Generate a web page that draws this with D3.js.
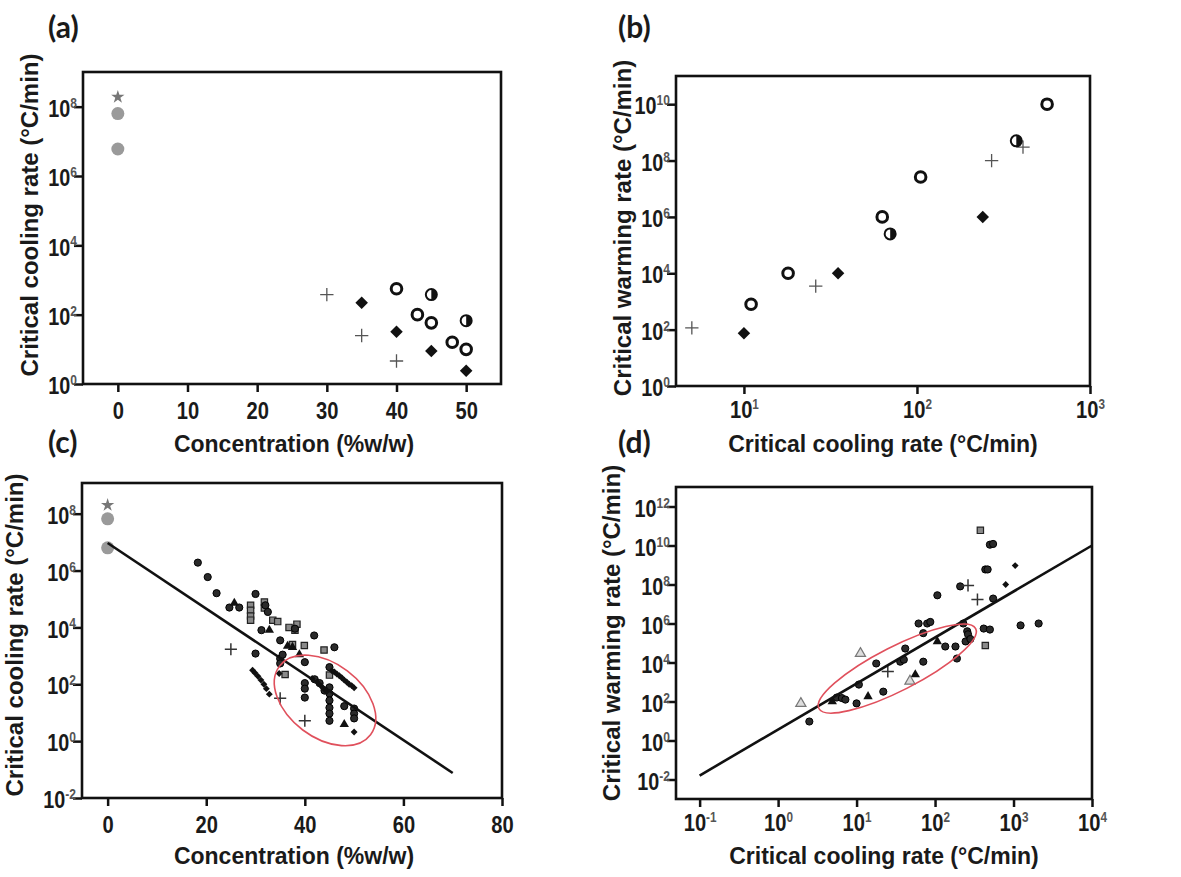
<!DOCTYPE html>
<html>
<head>
<meta charset="utf-8">
<title>Critical cooling and warming rates</title>
<style>
body { margin: 0; background: #fff; }
.tick text { font-family: "Liberation Sans", Arial, sans-serif; font-weight: bold; fill: #1a1a1a; }
.tick line { stroke: #111; stroke-width: 2.5; }
.title { font-family: "Liberation Sans", Arial, sans-serif; font-weight: bold; fill: #1a1a1a; }
.plabel { font-family: Lato, "Open Sans", sans-serif; font-weight: bold; font-size: 30px; fill: #1a1a1a; }
</style>
</head>
<body>
<script src="https://d3js.org/d3.v7.min.js"></script>
<script>

// ---- panel (a): concentration (%w/w) vs critical cooling rate (°C/min)
var aStar     = [[0, 1.9e8]];
var aGrayDot  = [[0, 6.3e7], [0, 6e6]];
var aPlus     = [[30, 380], [35, 25], [40, 4.6]];
var aDiamond  = [[35, 220], [40, 32], [45, 9], [50, 2.4]];
var aRing     = [[40, 560], [43, 100], [45, 58], [48, 16], [50, 10]];
var aHalf     = [[45, 380], [50, 67]];

// ---- panel (b): critical cooling rate vs critical warming rate
var bPlus     = [[5, 115], [26, 3500], [270, 1e8], [410, 3e8]];
var bDiamond  = [[10, 75], [35, 1e4], [240, 1e6]];
var bRing     = [[11, 800], [18, 1e4], [63, 1e6], [105, 2.6e7], [565, 1e10]];
var bHalf     = [[70, 2.5e5], [375, 5e8]];

// ---- panel (c): all literature data, concentration vs cooling rate
var cStar     = [[0, 2e8]];
var cGrayDot  = [[0, 6.6e7], [0, 6.3e6]];
var cDot      = [[18.3, 1.9e6], [20.3, 5.9e5], [22.1, 1.6e5], [30, 1.5e5], [24.7, 5e4], [26.7, 5e4],
                 [31.2, 8e3], [30, 1.2e3], [35, 3.5e3], [41.9, 5.2e3], [46, 2e3], [40, 600], [40, 110],
                 [40, 70], [40, 34], [45, 400], [45, 78], [45, 47], [45, 27], [45, 15], [45, 9.3],
                 [45, 5.2], [48, 17], [50, 14], [50, 9.3], [50, 6.3], [35, 800], [35, 540], [42, 150],
                 [43, 110], [44, 60], [38, 9e3], [32, 6e4], [32.5, 3.5e4], [35.5, 1.1e3]];
var cSquare   = [[29, 6e4], [29, 4e4], [29, 2.5e4], [29, 1.8e4], [36.8, 1e4], [38, 8e3], [39.9, 2.3e3],
                 [37.5, 2.5e3], [43.9, 1.6e3], [31.8, 7.8e4], [31.8, 4.8e4], [33.5, 1.8e4], [34.5, 1.6e4],
                 [38.4, 1.3e4], [36, 220], [45, 210]];
var cTri      = [[25.7, 7.2e4], [32.8, 8e3], [37.5, 2e3], [38.9, 1.1e3], [48, 3.9], [36.5, 2.2e3]];
var cPlus     = [[25, 1.7e3], [35, 32], [40, 5.2]];
var cDia      = [[29.4, 310], [29.9, 250], [30.5, 190], [31.1, 140], [31.7, 100], [32.2, 70], [32.8, 45],
                 [45.5, 300], [46, 270], [46.5, 230], [47, 200], [47.5, 170], [48, 140], [48.5, 120],
                 [49, 100], [49.5, 90], [50, 75], [41.5, 160], [42.5, 120], [43.2, 90], [43.8, 70],
                 [44.4, 55], [34.8, 240], [50, 2.1]];
var cFitX     = [0, 70];
var cFitY     = [9.3e6, 0.076];

// ---- panel (d): all literature data, cooling rate vs warming rate
var dDot      = [[2.5, 9.4], [5.6, 160], [6.5, 150], [7.2, 125], [10, 80], [10.7, 740], [17.8, 8.9e3],
                 [21.9, 320], [36, 1.1e4], [40, 1.4e4], [41.7, 5.2e4], [70.8, 1.1e4], [61.7, 1e6],
                 [70.8, 3.2e5], [79.4, 1e6], [87, 1.2e6], [107, 2.8e7], [135, 6.6e4], [182, 6.6e4],
                 [190, 1.6e4], [209, 8e7], [229, 1e6], [245, 1.2e5], [257, 4e5], [263, 2.8e5],
                 [282, 1.6e5], [417, 5.5e5], [500, 4.9e5], [550, 1.9e7], [1230, 8e5], [2090, 1e6],
                 [437, 5.9e8], [468, 5.9e8], [500, 1.1e10], [549, 1.2e10]];
var dSquare   = [[378, 6e10], [437, 7.4e4]];
var dTri      = [[4.9, 100], [14, 180], [56, 2.4e3], [107, 1.2e5]];
var dTriOpen  = [[1.95, 79], [11.2, 2.9e4], [47.9, 1.1e3]];
var dPlus     = [[25, 3.5e3], [263, 9e7], [347, 1.7e7]];
var dDia      = [[1050, 9.3e8], [795, 1e8]];
var dFitX     = [0.1, 1e4];
var dFitY     = [0.016, 1e10];

var svg = d3.select("body").append("svg")
    .attr("width", 1181)
    .attr("height", 877);

function sup(sel, d) {
  var e = Math.round(Math.log10(d));
  sel.text("10");
  sel.append("tspan").attr("dy", "-0.65em").attr("font-size", "14px").attr("fill", "#555").text(e);
}

// build one panel: box, scales, axes, titles
function panel(o) {
  var x = o.xlog ? d3.scaleLog() : d3.scaleLinear();
  x.domain(o.xdom).range([o.left, o.right]);
  var y = d3.scaleLog().domain(o.ydom).range([o.bottom, o.top]);
  var g = svg.append("g");

  var xa = g.append("g")
      .attr("transform", "translate(0," + o.bottom + ")")
      .call(d3.axisBottom(x).tickValues(o.xticks).tickSize(8).tickSizeOuter(0).tickPadding(o.xlog ? 4 : 7));
  xa.select(".domain").remove();
  xa.selectAll(".tick text").attr("font-size", "24px").attr("dy", "0.85em")
      .attr("transform", "scale(0.84,1)");
  if (o.xlog) xa.selectAll(".tick text").each(function(d) { sup(d3.select(this), d); });

  var ya = g.append("g")
      .attr("transform", "translate(" + o.left + ",0)")
      .call(d3.axisLeft(y).tickValues(o.yticks).tickSize(9).tickSizeOuter(0).tickPadding(-2));
  ya.select(".domain").remove();
  ya.selectAll(".tick text").attr("font-size", "23px").attr("dy", "0.42em")
      .attr("transform", "scale(0.86,1)")
      .each(function(d) { sup(d3.select(this), d); });

  g.append("rect")
      .attr("x", o.left).attr("y", o.top)
      .attr("width", o.right - o.left).attr("height", o.bottom - o.top)
      .attr("fill", "none").attr("stroke", "#111").attr("stroke-width", 2.6);

  g.append("text").attr("class", "title")
      .attr("x", (o.left + o.right) / 2 + o.xtdx).attr("y", o.xty)
      .attr("text-anchor", "middle").attr("font-size", "23px")
      .text(o.xtitle);
  g.append("text").attr("class", "title")
      .attr("transform", "translate(" + o.ytx + "," + o.yty + ")rotate(-90)")
      .attr("text-anchor", "middle").attr("font-size", "24px")
      .text(o.ytitle);
  g.append("text").attr("class", "plabel")
      .attr("x", o.lx).attr("y", o.ly).text(o.label);

  return { g: g, x: x, y: y };
}

var sym = d3.symbol();

// marker drawing
function draw(p, data, kind) {
  var sel = p.g.append("g").selectAll("g").data(data).enter().append("g")
      .attr("transform", function(d) { return "translate(" + p.x(d[0]) + "," + p.y(d[1]) + ")"; });
  if (kind == "ring") {
    sel.append("circle").attr("r", 5.3).attr("fill", "#fff").attr("stroke", "#111").attr("stroke-width", 3);
  } else if (kind == "half") {
    sel.append("circle").attr("r", 5.5).attr("fill", "#fff").attr("stroke", "#111").attr("stroke-width", 2);
    sel.append("path").attr("d", "M0,-5.5A5.5,5.5 0 0 1 0,5.5Z").attr("fill", "#111");
  } else if (kind == "diamond") {
    sel.append("path").attr("d", sym.type(d3.symbolDiamond2).size(100)()).attr("fill", "#111");
  } else if (kind == "plus") {
    sel.append("path").attr("d", sym.type(d3.symbolPlus).size(60)()).attr("fill", "none")
        .attr("stroke", "#555").attr("stroke-width", 1.3);
  } else if (kind == "grayDot") {
    sel.append("circle").attr("r", 6.5).attr("fill", "#9a9a9a");
  } else if (kind == "star") {
    sel.append("path").attr("d", sym.type(d3.symbolStar).size(55)()).attr("fill", "#777");
  } else if (kind == "dot") {
    sel.append("circle").attr("r", 3.6).attr("fill", "#2a2a2a").attr("stroke", "#000").attr("stroke-width", 1);
  } else if (kind == "square") {
    sel.append("path").attr("d", sym.type(d3.symbolSquare).size(40)()).attr("fill", "#8a8a8a")
        .attr("stroke", "#222").attr("stroke-width", 1.2);
  } else if (kind == "tri") {
    sel.append("path").attr("d", sym.type(d3.symbolTriangle).size(38)()).attr("fill", "#111");
  } else if (kind == "triOpen") {
    sel.append("path").attr("d", sym.type(d3.symbolTriangle).size(45)()).attr("fill", "#ddd")
        .attr("stroke", "#777").attr("stroke-width", 1.2);
  } else if (kind == "sPlus") {
    sel.append("path").attr("d", sym.type(d3.symbolPlus).size(50)()).attr("fill", "none")
        .attr("stroke", "#333").attr("stroke-width", 1.5);
  } else if (kind == "sDia") {
    sel.append("path").attr("d", sym.type(d3.symbolDiamond2).size(30)()).attr("fill", "#111");
  }
}

function fit(p, xs, ys) {
  p.g.append("path")
      .datum(d3.zip(xs, ys))
      .attr("fill", "none").attr("stroke", "#111").attr("stroke-width", 2.6)
      .attr("d", d3.line().x(function(d) { return p.x(d[0]); }).y(function(d) { return p.y(d[1]); }));
}

function ring(p, cx, cy, rx, ry, ang) {
  var px = p.x(cx), py = p.y(cy);
  p.g.append("ellipse")
      .attr("cx", px).attr("cy", py).attr("rx", rx).attr("ry", ry)
      .attr("transform", "rotate(" + ang + " " + px + " " + py + ")")
      .attr("fill", "none").attr("stroke", "#e0505c").attr("stroke-width", 1.6);
}

var pa = panel({ left: 83, right: 501, top: 72, bottom: 384, xdom: [-5, 55], ydom: [1, 1e9],
  xticks: [0, 10, 20, 30, 40, 50], yticks: [1, 1e2, 1e4, 1e6, 1e8],
  xtitle: "Concentration (%w/w)", xty: 452, xtdx: 2, ytitle: "Critical cooling rate (°C/min)",
  ytx: 38, yty: 215, label: "(a)", lx: 48, ly: 38 });
draw(pa, aStar, "star");
draw(pa, aGrayDot, "grayDot");
draw(pa, aPlus, "plus");
draw(pa, aDiamond, "diamond");
draw(pa, aRing, "ring");
draw(pa, aHalf, "half");

var pb = panel({ left: 676, right: 1090, top: 76, bottom: 386, xlog: true, xdom: [4.05, 1000], ydom: [1, 1e11],
  xticks: [10, 100, 1000], yticks: [1, 1e2, 1e4, 1e6, 1e8, 1e10],
  xtitle: "Critical cooling rate (°C/min)", xty: 452, xtdx: 0, ytitle: "Critical warming rate (°C/min)",
  ytx: 631, yty: 228, label: "(b)", lx: 618, ly: 38 });
draw(pb, bPlus, "plus");
draw(pb, bDiamond, "diamond");
draw(pb, bRing, "ring");
draw(pb, bHalf, "half");

var pc = panel({ left: 82, right: 502, top: 483, bottom: 798, xdom: [-5.2, 80], ydom: [1e-2, 1.2e9],
  xticks: [0, 20, 40, 60, 80], yticks: [1e-2, 1, 1e2, 1e4, 1e6, 1e8],
  xtitle: "Concentration (%w/w)", xty: 864, xtdx: 2, ytitle: "Critical cooling rate (°C/min)",
  ytx: 23, yty: 635, label: "(c)", lx: 48, ly: 453 });
draw(pc, cStar, "star");
draw(pc, cGrayDot, "grayDot");
draw(pc, cSquare, "square");
draw(pc, cDot, "dot");
draw(pc, cTri, "tri");
draw(pc, cPlus, "sPlus");
draw(pc, cDia, "sDia");
fit(pc, cFitX, cFitY);
ring(pc, 44.1, 27, 57, 37, 37);

var pd = panel({ left: 676, right: 1092, top: 487, bottom: 799, xlog: true, xdom: [0.05, 1e4], ydom: [1e-3, 1e13],
  xticks: [0.1, 1, 10, 100, 1000, 10000], yticks: [1e-2, 1, 1e2, 1e4, 1e6, 1e8, 1e10, 1e12],
  xtitle: "Critical cooling rate (°C/min)", xty: 864, xtdx: 0, ytitle: "Critical warming rate (°C/min)",
  ytx: 620, yty: 633, label: "(d)", lx: 618, ly: 453 });
draw(pd, dSquare, "square");
draw(pd, dDot, "dot");
draw(pd, dTri, "tri");
draw(pd, dTriOpen, "triOpen");
draw(pd, dPlus, "sPlus");
draw(pd, dDia, "sDia");
fit(pd, dFitX, dFitY);
ring(pd, 33, 4900, 88, 22, -27);

</script>
</body>
</html>
